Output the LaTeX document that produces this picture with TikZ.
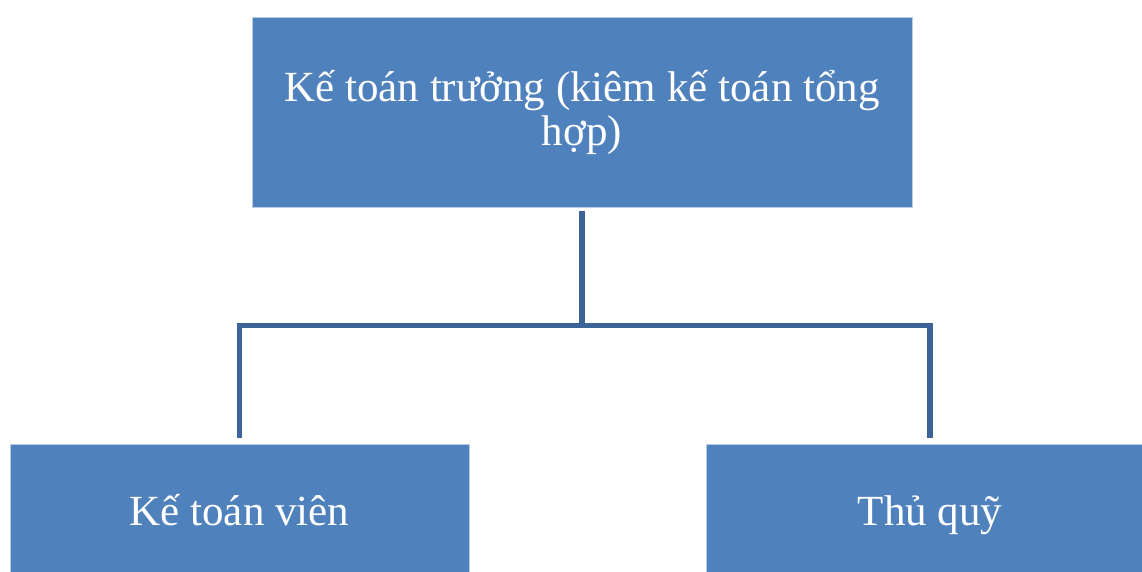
\documentclass[tikz,border=0pt]{standalone}
\usepackage{fontspec}
\setmainfont{Liberation Serif}
\definecolor{boxblue}{HTML}{4F81BD}
\definecolor{boxedge}{HTML}{B9CDE4}
\definecolor{linkblue}{HTML}{3D6498}
\tikzstyle{box} = [
  rectangle,
  fill=boxblue,
  draw=boxedge,
  line width=0.8pt,
  text=white,
  align=center,
  inner sep=0,
  font=\fontsize{43}{44}\selectfont
]
\tikzstyle{link} = [
  draw=linkblue,
  line width=5.5pt,
  line join=miter
]
\begin{document}
\begin{tikzpicture}[x=1pt, y=-1pt]
      \useasboundingbox (0,0) rectangle (1142,572);
      \clip (0,0) rectangle (1142,572);

      \node [box, minimum width=660pt, minimum height=190pt] (chief) at (582,112) {Kế toán trưởng (kiêm kế toán tổng\\hợp)};
      \node [box, minimum width=459pt, minimum height=162pt, text height=20pt, text depth=20pt] (staff) at (239.5,525) {Kế toán viên};
      \node [box, minimum width=448pt, minimum height=162pt, text height=20pt, text depth=20pt] (cashier) at (930,525) {Thủ quỹ};

      \coordinate (fork) at (582,325.5);
      \draw [link] ([yshift=-4pt]chief.south) -- (fork);
      \draw [link] ([yshift=5.5pt]staff.north) |- (fork) -| ([yshift=5.5pt]cashier.north);

    \end{tikzpicture}
\end{document}
